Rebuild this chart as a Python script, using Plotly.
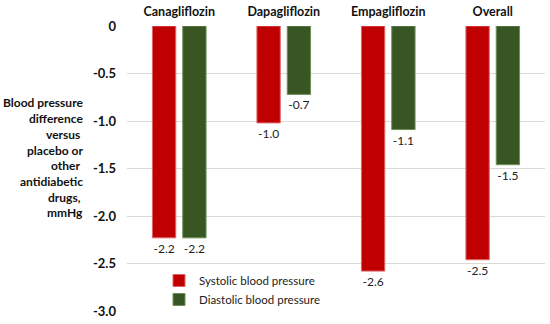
import plotly.graph_objects as go

categories = ["Canagliflozin", "Dapagliflozin", "Empagliflozin", "Overall"]
systolic = [-2.23, -1.02, -2.58, -2.46]
diastolic = [-2.23, -0.72, -1.09, -1.46]
y_ticks = [0, -0.5, -1.0, -1.5, -2.0, -2.5, -3.0]
y_tick_labels = ["0", "-0.5", "-1.0", "-1.5", "-2.0", "-2.5", "-3.0"]
title_lines = ["Blood pressure", "difference", "versus ", "placebo or", "other ",
               "antidiabetic", "drugs, ", "mmHg"]

FONT = "Lato"
L, T, PW, PH = 127, 26, 418, 285

fig = go.Figure()
fig.add_trace(go.Bar(
    x=categories, y=systolic, name="Systolic blood pressure",
    marker=dict(color="#c00000", line=dict(color="#e06666", width=1)),
    texttemplate="%{y:.1f}", textposition="outside",
    textfont=dict(family=FONT, size=12, color="#222222"), cliponaxis=False,
))
fig.add_trace(go.Bar(
    x=categories, y=diastolic, name="Diastolic blood pressure",
    marker=dict(color="#375623", line=dict(color="#6f8f5a", width=1)),
    texttemplate="%{y:.1f}", textposition="outside",
    textfont=dict(family=FONT, size=12, color="#222222"), cliponaxis=False,
))

annotations = []
for i, line in enumerate(title_lines):
    ypx = 103 + i * 15.7
    annotations.append(dict(
        text=line, xref="paper", yref="paper",
        x=(85 - L) / PW, y=(T + PH - ypx) / PH,
        xanchor="right", yanchor="middle", align="right", showarrow=False,
        font=dict(family=FONT, size=12, color="#111111", weight="bold"),
    ))

fig.update_layout(
    width=550, height=324,
    margin=dict(l=L, r=550 - L - PW, t=T, b=324 - T - PH, autoexpand=False),
    paper_bgcolor="white", plot_bgcolor="white",
    barmode="group", bargap=0.42, bargroupgap=0.23,
    font=dict(family=FONT, size=12, color="#111111"),
    showlegend=True,
    legend=dict(x=(159 - L) / PW, y=(T + PH - 266) / PH, xanchor="left", yanchor="top",
                bgcolor="rgba(0,0,0,0)", font=dict(family=FONT, size=11.5, color="#222222"),
                itemwidth=30, tracegroupgap=0, traceorder="normal"),
    xaxis=dict(side="top", showline=False, ticks="", showgrid=False, automargin=False,
               ticklabelstandoff=7,
               tickfont=dict(family=FONT, size=12.5, color="#111111", weight="bold")),
    yaxis=dict(range=[-3.0, 0], tickvals=y_ticks, ticktext=y_tick_labels, automargin=False,
               showgrid=True, gridcolor="#d9d9d9", gridwidth=1, zeroline=False,
               showline=False, ticks="", ticklabelstandoff=10,
               tickfont=dict(family=FONT, size=13, color="#111111", weight="bold")),
    annotations=annotations,
)

fig.write_html("out.html", config={"displayModeBar": False},
               post_script="document.body.style.margin='0';")
